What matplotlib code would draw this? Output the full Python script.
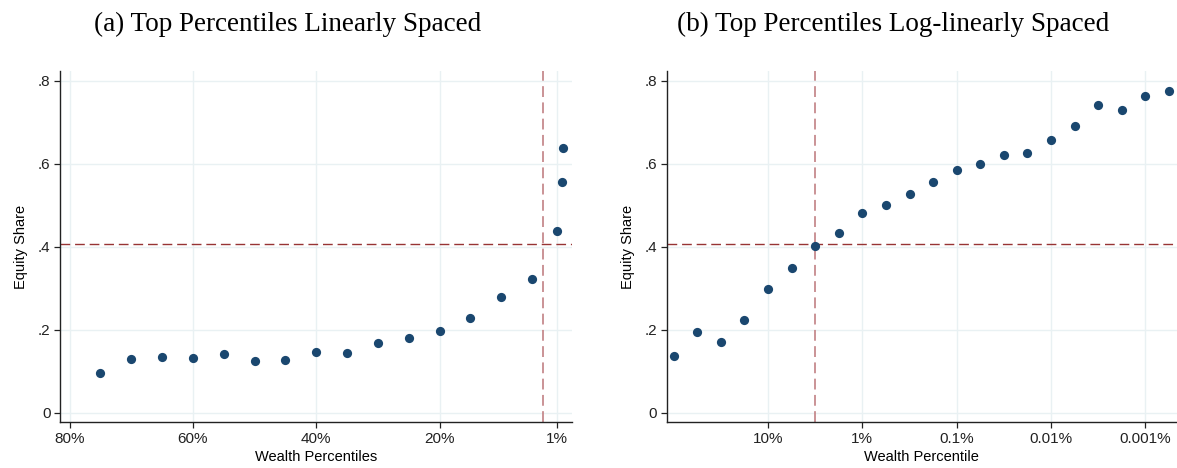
import numpy as np
import matplotlib
matplotlib.use("Agg")
import matplotlib.pyplot as plt

# panel (a): top percentiles, linear spacing
lin_pct = [75, 70, 65, 60, 55, 50, 45, 40, 35, 30, 25, 20, 15, 10, 5, 1, 0.1, 0.01]
lin_share = [0.096, 0.129, 0.134, 0.133, 0.141, 0.126, 0.127, 0.147, 0.144, 0.169,
             0.181, 0.197, 0.228, 0.279, 0.322, 0.439, 0.556, 0.638]
lin_ticks = [80, 60, 40, 20, 1]
lin_labels = ["80%", "60%", "40%", "20%", "1%"]

# panel (b): top percentiles, log-linear spacing (log10 of percentile)
log_pct = [2.0, 1.75, 1.5, 1.25, 1.0, 0.75, 0.5, 0.25, 0.0, -0.25, -0.5, -0.75,
           -1.0, -1.25, -1.5, -1.75, -2.0, -2.25, -2.5, -2.75, -3.0, -3.25]
log_share = [0.138, 0.195, 0.171, 0.225, 0.299, 0.350, 0.401, 0.434, 0.481, 0.500,
             0.527, 0.556, 0.584, 0.600, 0.620, 0.625, 0.658, 0.692, 0.741, 0.729,
             0.764, 0.774]
log_ticks = [1, 0, -1, -2, -3]
log_labels = ["10%", "1%", "0.1%", "0.01%", "0.001%"]

avg_share = 0.408      # horizontal reference line
cutoff = 10 ** 0.5     # top ~3% cut-off (vertical line)

navy = "#1a476f"
hline_col = "#973434"
vline_col = "#c68a8d"
grid_col = "#e9f1f3"

plt.rcParams["font.family"] = ["Liberation Sans", "DejaVu Sans"]

fig = plt.figure(figsize=(11.77, 4.68), dpi=100)
ax1 = fig.add_axes([0.0512, 0.0983, 0.4345, 0.75])
ax2 = fig.add_axes([0.5664, 0.0983, 0.4336, 0.75])


def style(ax, ticks, labels, xlabel):
    ax.set_xticks(ticks)
    ax.set_xticklabels(labels)
    ax.set_yticks([0, 0.2, 0.4, 0.6, 0.8])
    ax.set_yticklabels(["0", ".2", ".4", ".6", ".8"])
    ax.set_ylim(-0.0217, 0.8233)
    ax.grid(True, color=grid_col, linewidth=1.0, zorder=0)
    ax.set_axisbelow(True)
    for s in ["top", "right"]:
        ax.spines[s].set_visible(False)
    for s in ["left", "bottom"]:
        ax.spines[s].set_linewidth(1.0)
        ax.spines[s].set_color("#222222")
    ax.tick_params(direction="out", length=4, width=0.9, labelsize=11,
                   colors="#222222", pad=3)
    ax.set_ylabel("Equity Share", fontsize=10.5, labelpad=7)
    ax.set_xlabel(xlabel, fontsize=10.5, labelpad=3)


# (a)
ax1.axhline(avg_share, color=hline_col, lw=1.0, dashes=(7, 3.5), zorder=2)
ax1.axvline(cutoff, color=vline_col, lw=1.3, dashes=(6, 3), zorder=2)
ax1.scatter(lin_pct, lin_share, s=44, color=navy, zorder=3, linewidths=0)
ax1.set_xlim(81.5, -1.43)
style(ax1, lin_ticks, lin_labels, "Wealth Percentiles")

# (b)
ax2.axhline(avg_share, color=hline_col, lw=1.0, dashes=(7, 3.5), zorder=2)
ax2.axvline(np.log10(cutoff), color=vline_col, lw=1.3, dashes=(6, 3), zorder=2)
ax2.scatter(log_pct, log_share, s=44, color=navy, zorder=3, linewidths=0)
ax2.set_xlim(2.075, -3.336)
style(ax2, log_ticks, log_labels, "Wealth Percentile")

fig.text(287.5 / 1177, 1 - 24 / 468, "(a) Top Percentiles Linearly Spaced",
         family="Liberation Serif", fontsize=19.5, ha="center", va="center")
fig.text(893.5 / 1177, 1 - 24 / 468, "(b) Top Percentiles Log-linearly Spaced",
         family="Liberation Serif", fontsize=19.5, ha="center", va="center")

fig.savefig("out.png", dpi=100)
